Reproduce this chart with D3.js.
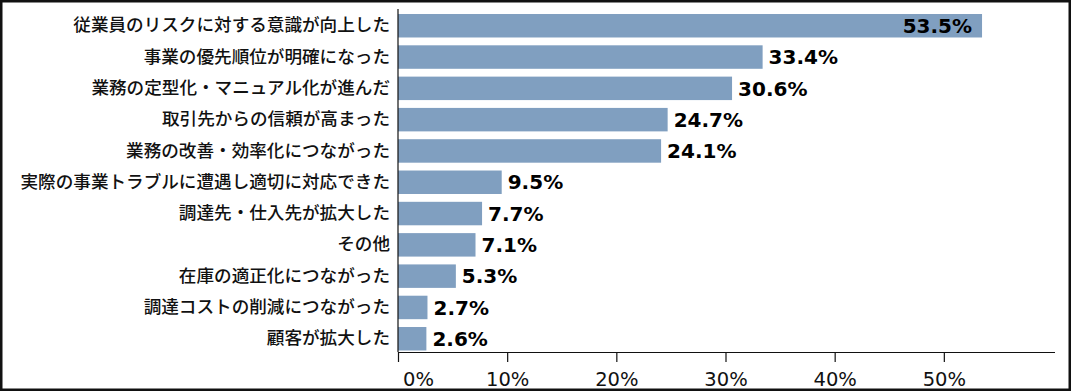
<!DOCTYPE html>
<html><head><meta charset="utf-8">
<script src="https://cdn.jsdelivr.net/npm/d3@7"></script>
<style>html,body{margin:0;padding:0;background:#fff;}svg{display:block;}</style>
</head><body><svg id="c" width="1071" height="391"></svg>
<script>
const categories = [
  "従業員のリスクに対する意識が向上した",
  "事業の優先順位が明確になった",
  "業務の定型化・マニュアル化が進んだ",
  "取引先からの信頼が高まった",
  "業務の改善・効率化につながった",
  "実際の事業トラブルに遭遇し適切に対応できた",
  "調達先・仕入先が拡大した",
  "その他",
  "在庫の適正化につながった",
  "調達コストの削減につながった",
  "顧客が拡大した"
];
const values = [53.5, 33.4, 30.6, 24.7, 24.1, 9.5, 7.7, 7.1, 5.3, 2.7, 2.6];
const xTicks = [0, 10, 20, 30, 40, 50];
const xMax = 60;

const svg = d3.select("#c");
const W = 1071, H = 391;
const x0 = 398, x1 = 1053, axisY = 352, plotTop = 9;

svg.append("rect").attr("x",0).attr("y",0).attr("width",W).attr("height",H).attr("fill","#fff");

const x = d3.scaleLinear().domain([0, xMax]).range([x0, x1]);
const y = d3.scaleBand().domain(categories).range([10.1, 354.4]).paddingInner(0.25).paddingOuter(0.125);

// bars
svg.append("g").selectAll("rect").data(values).join("rect")
  .attr("x", x(0))
  .attr("y", (d,i) => y(categories[i]))
  .attr("width", d => x(d) - x(0))
  .attr("height", y.bandwidth())
  .attr("fill", "#809fc0");

// value labels
svg.append("g").selectAll("text").data(values).join("text")
  .attr("x", d => d > 50 ? x(d) - 10 : x(d) + 6)
  .attr("y", (d,i) => y(categories[i]) + y.bandwidth()/2)
  .attr("dy", "0.36em")
  .attr("text-anchor", d => d > 50 ? "end" : "start")
  .attr("font-family", "'DejaVu Sans', Verdana, sans-serif")
  .attr("font-weight", "bold")
  .attr("font-size", "20px")
  .attr("fill", "#000")
  .text(d => d.toFixed(1) + "%");

// y axis (labels)
const gy = svg.append("g").attr("transform", `translate(${x0},0)`)
  .call(d3.axisLeft(y).tickSize(0).tickPadding(8));
gy.select(".domain").remove();
gy.selectAll("text")
  .attr("font-family", "'Noto Sans CJK JP', sans-serif")
  .attr("font-weight", "500")
  .attr("font-size", "17.6px")
  .attr("fill", "#111");
svg.append("line").attr("x1", x0).attr("x2", x0).attr("y1", plotTop).attr("y2", axisY)
  .attr("stroke", "#111").attr("stroke-width", 1.2);

// x axis
const gx = svg.append("g").attr("transform", `translate(0,${axisY})`)
  .call(d3.axisBottom(x).tickValues(xTicks).tickFormat(d => d + "%").tickSize(10).tickSizeOuter(0).tickPadding(10));
gx.select(".domain").attr("d", `M${x0},0.5H1055`).attr("stroke", "#111").attr("stroke-width", 1.2);
gx.selectAll(".tick line").attr("stroke", "#111").attr("stroke-width", 1.2);
gx.selectAll("text")
  .attr("font-family", "'DejaVu Sans', Verdana, sans-serif")
  .attr("font-size", "19.5px")
  .attr("fill", "#111");
gx.selectAll(".tick").filter(d => d === 0).select("text").attr("x", 20);

// frame
svg.append("rect").attr("x", 1.25).attr("y", 1.25).attr("width", W - 2.5).attr("height", H - 2.5)
  .attr("fill", "none").attr("stroke", "#111").attr("stroke-width", 2.5);
</script></body></html>
